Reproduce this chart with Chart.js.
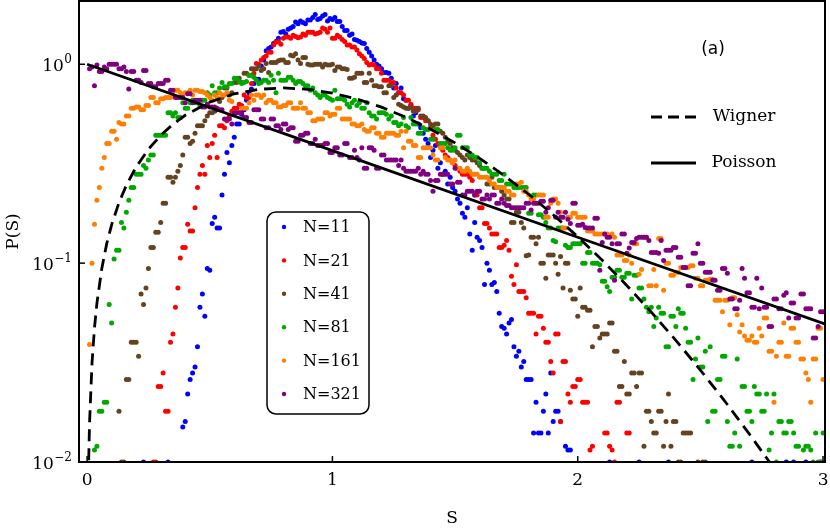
<!DOCTYPE html>
<html><head><meta charset="utf-8">
<script src="https://cdn.jsdelivr.net/npm/chart.js@4/dist/chart.umd.min.js"></script>
<style>html,body{margin:0;padding:0;background:#fff;}#wrap{width:830px;height:528px;}</style>
</head><body><div id="wrap"><canvas id="c" width="830" height="528"></canvas></div>
<script>
// Bin centres (S), odd hundredths
const S = [0.01,0.03,0.05,0.07,0.09,0.11,0.13,0.15,0.17,0.19,
0.21,0.23,0.25,0.27,0.29,0.31,0.33,0.35,0.37,0.39,
0.41,0.43,0.45,0.47,0.49,0.51,0.53,0.55,0.57,0.59,
0.61,0.63,0.65,0.67,0.69,0.71,0.73,0.75,0.77,0.79,
0.81,0.83,0.85,0.87,0.89,0.91,0.93,0.95,0.97,0.99,
1.01,1.03,1.05,1.07,1.09,1.11,1.13,1.15,1.17,1.19,
1.21,1.23,1.25,1.27,1.29,1.31,1.33,1.35,1.37,1.39,
1.41,1.43,1.45,1.47,1.49,1.51,1.53,1.55,1.57,1.59,
1.61,1.63,1.65,1.67,1.69,1.71,1.73,1.75,1.77,1.79,
1.81,1.83,1.85,1.87,1.89,1.91,1.93,1.95,1.97,1.99,
2.01,2.03,2.05,2.07,2.09,2.11,2.13,2.15,2.17,2.19,
2.21,2.23,2.25,2.27,2.29,2.31,2.33,2.35,2.37,2.39,
2.41,2.43,2.45,2.47,2.49,2.51,2.53,2.55,2.57,2.59,
2.61,2.63,2.65,2.67,2.69,2.71,2.73,2.75,2.77,2.79,
2.81,2.83,2.85,2.87,2.89,2.91,2.93,2.95,2.97,2.99];
// Bin centres (S), even hundredths
const S2 = [0.02,0.04,0.06,0.08,0.10,0.12,0.14,0.16,0.18,0.20,
0.22,0.24,0.26,0.28,0.30,0.32,0.34,0.36,0.38,0.40,
0.42,0.44,0.46,0.48,0.50,0.52,0.54,0.56,0.58,0.60,
0.62,0.64,0.66,0.68,0.70,0.72,0.74,0.76,0.78,0.80,
0.82,0.84,0.86,0.88,0.90,0.92,0.94,0.96,0.98,1.00,
1.02,1.04,1.06,1.08,1.10,1.12,1.14,1.16,1.18,1.20,
1.22,1.24,1.26,1.28,1.30,1.32,1.34,1.36,1.38,1.40,
1.42,1.44,1.46,1.48,1.50,1.52,1.54,1.56,1.58,1.60,
1.62,1.64,1.66,1.68,1.70,1.72,1.74,1.76,1.78,1.80,
1.82,1.84,1.86,1.88,1.90,1.92,1.94,1.96,1.98,2.00,
2.02,2.04,2.06,2.08,2.10,2.12,2.14,2.16,2.18,2.20,
2.22,2.24,2.26,2.28,2.30,2.32,2.34,2.36,2.38,2.40,
2.42,2.44,2.46,2.48,2.50,2.52,2.54,2.56,2.58,2.60,
2.62,2.64,2.66,2.68,2.70,2.72,2.74,2.76,2.78,2.80,
2.82,2.84,2.86,2.88,2.90,2.92,2.94,2.96,2.98,3.00];

const N11 = [null,null,null,null,null,null,null,null,null,null,
null,0.01,null,null,null,null,0.01,null,null,0.015,
0.022,0.028,0.038,0.07,0.094,0.158,0.15,0.22,0.36,0.39,
0.5,0.56,0.66,0.75,0.84,0.98,1.17,1.22,1.3,1.45,
1.42,1.52,1.63,1.65,1.6,1.67,1.78,1.7,1.78,1.7,
1.72,1.64,1.48,1.4,1.33,1.3,1.27,1.15,1.05,0.98,
0.91,0.9,0.76,0.72,0.67,0.6,0.55,0.5,0.45,0.4,
0.37,0.3,0.28,0.25,0.24,0.21,0.178,0.19,0.116,0.135,
0.12,0.1,0.078,0.072,0.048,0.044,0.052,0.034,0.03,0.026,
0.026,0.02,0.014,0.022,0.028,0.018,0.016,0.012,0.0115,null,
null,null,null,null,null,null,0.01,null,null,null,
null,null,0.01,null,null,null,null,null,0.01,null,
null,null,null,null,null,null,null,null,null,null,
null,null,null,null,null,0.01,null,null,null,null,
null,null,0.01,null,null,null,0.01,null,null,0.01];
const N11_E = [null,null,null,null,null,null,null,null,null,null,
null,null,null,null,null,null,null,null,null,0.016,
0.026,0.03,0.06,0.054,0.092,0.17,0.15,0.28,0.32,0.43,
0.5,0.59,0.72,0.8,0.84,1.05,1.2,1.27,1.35,1.46,
1.5,1.55,1.6,1.62,1.67,1.72,1.68,1.75,1.65,1.68,
1.64,1.55,1.48,1.42,1.32,1.28,1.2,1.1,1.0,0.95,
0.91,0.85,0.8,0.76,0.66,0.62,0.57,0.48,0.42,0.34,
0.39,0.32,0.29,0.27,0.23,0.2,0.17,0.14,0.16,0.13,
0.078,0.092,0.08,0.056,0.047,0.05,0.038,0.036,0.032,0.026,
0.014,0.014,0.018,0.014,0.016,0.018,null,0.0115,null,null,
null,null,null,null,null,null,null,null,null,null,
null,null,null,null,null,null,null,null,null,null,
null,null,null,null,null,null,null,null,null,null,
null,null,null,null,null,null,null,null,null,null,
null,null,null,0.01,null,null,null,null,null,null];

const N21 = [null,null,null,null,null,null,null,null,null,null,
null,null,null,0.01,0.024,0.028,0.018,0.044,0.075,0.12,
0.157,0.145,0.24,0.31,0.39,0.4,0.34,0.49,0.52,0.58,
0.6,0.62,0.68,0.8,1.01,1.05,1.1,1.15,1.29,1.26,
1.37,1.35,1.38,1.37,1.4,1.45,1.42,1.45,1.5,1.52,
1.35,1.37,1.3,1.25,1.22,1.13,1.07,0.99,0.99,0.95,
0.83,0.83,0.81,0.72,0.7,0.66,0.6,0.59,0.54,0.52,
0.44,0.4,0.37,0.34,0.32,0.3,0.28,0.28,0.26,0.22,
0.19,0.158,0.14,0.14,0.12,0.13,0.086,0.098,0.072,0.067,
0.056,0.044,0.054,0.04,0.032,0.044,0.016,0.032,0.02,0.024,
0.026,0.02,0.0115,null,null,0.014,0.012,0.01,0.02,null,
0.014,null,null,null,null,null,null,null,null,null,
null,null,null,null,null,null,null,null,null,null,
null,null,null,null,null,null,null,null,null,null,
null,null,null,null,null,null,null,null,null,null];
const N21_E = [null,null,null,null,null,null,null,null,null,null,
null,null,null,0.01,0.024,0.018,0.04,0.06,0.106,0.12,
0.145,0.19,0.28,0.28,0.34,0.44,0.49,0.48,0.55,0.6,
0.63,0.7,0.68,0.9,1.0,1.08,1.15,1.25,1.3,1.35,
1.37,1.4,1.36,1.42,1.45,1.45,1.43,1.52,1.45,1.35,
1.4,1.33,1.25,1.22,1.18,1.1,1.02,1.0,0.95,0.9,
0.83,0.8,0.76,0.72,0.66,0.63,0.6,0.54,0.52,0.48,
0.42,0.39,0.35,0.33,0.31,0.29,0.28,0.27,0.22,0.19,
0.158,0.15,0.14,0.12,0.123,0.116,0.078,0.072,0.072,0.056,
0.056,0.054,0.047,0.04,0.028,0.044,0.032,0.022,0.024,0.026,
0.02,0.02,0.012,null,null,0.014,0.0115,0.02,null,0.014,
null,null,null,null,null,null,null,null,null,null,
null,null,null,null,null,null,null,null,null,null,
null,null,null,null,null,null,null,null,null,null,
null,null,null,null,null,null,null,null,null,null];

const N41 = [null,null,null,null,null,null,0.018,0.01,0.026,0.04,
0.034,0.062,0.094,0.12,0.143,0.2,0.27,0.255,0.29,0.35,
0.43,0.41,0.49,0.49,0.55,0.57,0.6,0.68,0.76,0.72,
0.81,0.81,0.9,0.95,0.95,0.93,1.01,1.02,1.02,1.05,
1.02,1.11,1.13,1.01,1.08,0.99,1.0,1.0,1.0,0.99,
0.93,0.97,0.95,0.85,0.86,0.9,0.81,0.9,0.78,0.77,
0.72,0.78,0.68,0.63,0.61,0.6,0.58,0.6,0.55,0.52,
0.49,0.5,0.45,0.41,0.38,0.36,0.34,0.35,0.33,0.32,
0.3,0.25,0.27,0.24,0.23,0.21,0.16,0.18,0.16,0.109,
0.135,0.125,0.1,0.084,0.11,0.1,0.108,0.1,0.073,0.066,
0.075,0.06,0.058,0.048,0.042,0.044,0.05,0.036,0.024,0.032,
0.022,0.028,0.028,0.012,0.018,0.014,0.018,0.012,0.022,0.016,
0.01,0.014,0.014,null,0.01,0.01,null,null,null,null,
null,null,null,null,null,null,null,null,null,null,
null,null,null,null,null,null,null,null,null,null];
const N41_E = [null,null,null,null,null,null,0.01,0.026,0.04,0.04,
0.07,0.075,0.12,0.143,0.16,0.2,0.27,0.27,0.31,0.43,
0.4,0.45,0.49,0.52,0.57,0.58,0.65,0.76,0.7,0.81,
0.85,0.9,0.88,0.95,0.98,0.95,0.91,1.02,1.04,1.05,
1.02,1.1,1.05,1.08,1.0,0.99,1.0,0.97,0.99,1.0,
0.97,0.95,0.94,0.85,0.9,0.9,0.81,0.83,0.78,0.77,
0.72,0.78,0.7,0.62,0.6,0.61,0.58,0.55,0.54,0.5,
0.5,0.46,0.43,0.4,0.37,0.35,0.33,0.34,0.33,0.31,
0.3,0.25,0.24,0.24,0.22,0.21,0.16,0.18,0.15,0.11,
0.135,0.135,0.1,0.11,0.11,0.088,0.075,0.1,0.066,0.054,
0.06,0.058,0.038,0.048,0.044,0.044,0.05,0.036,0.024,0.022,
0.028,0.024,0.028,0.018,0.016,0.014,0.018,0.016,0.012,0.016,
0.01,0.014,0.014,null,null,0.01,null,null,null,null,
null,null,null,null,null,null,null,null,null,null,
null,null,null,null,null,null,null,null,null,null];

const N81 = [null,0.0115,0.018,0.02,0.062,0.105,0.116,0.15,0.207,0.24,
0.28,0.31,0.33,0.35,0.44,0.44,0.57,0.55,0.54,0.64,
0.6,0.66,0.64,0.66,0.72,0.78,0.72,0.81,0.77,0.8,
0.85,0.8,0.82,0.88,0.83,0.81,0.83,0.88,0.72,0.83,
0.83,0.86,0.8,0.82,0.78,0.74,0.72,0.68,0.7,0.67,
0.74,0.67,0.66,0.61,0.66,0.64,0.6,0.57,0.55,0.57,
0.57,0.53,0.51,0.49,0.54,0.48,0.5,0.45,0.48,0.47,
0.42,0.47,0.4,0.38,0.37,0.44,0.38,0.38,0.35,0.34,
0.3,0.3,0.28,0.28,0.26,0.25,0.25,0.24,0.24,0.24,
0.178,0.22,0.175,0.16,0.15,0.128,0.15,0.123,0.12,0.125,
0.125,0.1,0.113,0.1,0.098,0.081,0.072,0.085,0.092,0.085,
0.089,0.087,0.075,0.066,0.057,0.048,0.06,0.056,0.038,0.054,
0.059,0.056,0.04,0.026,0.042,0.03,0.016,0.018,0.026,0.034,
0.016,0.012,0.033,0.024,0.018,0.016,0.022,0.018,0.022,0.014,
0.01,0.016,0.014,0.016,0.012,null,0.012,0.0115,0.014,0.01];
const N81_E = [null,0.012,0.018,0.02,0.05,0.116,0.16,0.18,0.24,0.28,
0.28,0.3,0.35,0.44,0.44,0.44,0.57,0.57,0.54,0.6,
0.64,0.64,0.62,0.66,0.7,0.72,0.76,0.77,0.8,0.85,
0.82,0.81,0.88,0.86,0.8,0.83,0.81,0.83,0.9,0.83,
0.86,0.83,0.82,0.8,0.78,0.76,0.7,0.7,0.68,0.66,
0.67,0.67,0.63,0.64,0.62,0.6,0.64,0.55,0.53,0.57,
0.56,0.55,0.51,0.5,0.49,0.54,0.5,0.45,0.47,0.42,
0.47,0.4,0.4,0.37,0.38,0.44,0.38,0.35,0.34,0.32,
0.3,0.29,0.28,0.26,0.28,0.25,0.24,0.24,0.24,0.178,
0.22,0.175,0.17,0.15,0.13,0.15,0.15,0.12,0.125,0.125,
0.1,0.113,0.1,0.1,0.081,0.076,0.085,0.092,0.085,0.089,
0.066,0.087,0.075,0.06,0.06,0.053,0.056,0.038,0.054,0.048,
0.056,0.047,0.04,0.033,0.03,0.036,0.038,0.018,0.026,0.034,
0.012,0.014,0.012,0.024,0.018,0.024,0.022,0.018,0.0115,0.022,
0.016,0.014,0.016,0.014,0.012,0.0115,0.012,0.01,0.01,0.014];

const N161 = [0.039,0.157,0.24,0.34,0.4,0.46,0.51,0.5,0.55,0.6,
0.61,0.59,0.62,0.68,0.64,0.67,0.68,0.7,0.74,0.7,
0.72,0.7,0.74,0.73,0.7,0.66,0.68,0.7,0.72,0.65,
0.57,0.6,0.6,0.7,0.7,0.68,0.64,0.66,0.64,0.61,
0.62,0.64,0.6,0.64,0.6,0.57,0.52,0.53,0.57,0.55,
0.56,0.6,0.53,0.53,0.5,0.49,0.47,0.46,0.48,0.45,
0.43,0.45,0.45,0.44,0.38,0.41,0.39,0.34,0.38,0.38,
0.35,0.33,0.38,0.33,0.32,0.3,0.29,0.3,0.28,0.28,
0.27,0.27,0.25,0.24,0.24,0.23,0.22,0.25,0.255,0.23,
0.21,0.2,0.22,0.17,0.2,0.21,0.18,0.15,0.17,0.178,
0.17,0.17,0.145,0.14,0.14,0.14,0.138,0.135,0.11,0.103,
0.11,0.125,0.088,0.135,0.077,0.093,0.133,0.073,0.1,0.087,
0.09,0.095,0.095,0.097,0.084,0.077,0.082,0.083,0.065,0.057,
0.065,0.067,0.055,0.049,0.041,0.043,0.04,0.043,0.053,0.036,
0.034,0.04,0.034,0.047,0.04,0.033,0.028,0.02,0.033,0.047];
const N161_E = [0.1,0.207,0.3,0.4,0.46,0.42,0.5,0.55,0.6,0.61,
0.59,0.62,0.68,0.64,0.67,0.68,0.68,0.74,0.72,0.72,
0.74,0.74,0.73,0.72,0.68,0.7,0.72,0.7,0.66,0.57,
0.57,0.6,0.64,0.66,0.7,0.7,0.66,0.64,0.61,0.62,
0.64,0.6,0.6,0.6,0.57,0.52,0.53,0.53,0.57,0.56,
0.6,0.53,0.53,0.5,0.49,0.5,0.46,0.48,0.45,0.43,
0.45,0.45,0.44,0.46,0.46,0.41,0.39,0.34,0.38,0.38,
0.33,0.38,0.34,0.33,0.33,0.3,0.29,0.29,0.28,0.27,
0.27,0.26,0.25,0.24,0.24,0.23,0.22,0.25,0.23,0.22,
0.21,0.22,0.22,0.17,0.21,0.2,0.15,0.17,0.178,0.17,
0.17,0.145,0.145,0.14,0.14,0.14,0.14,0.11,0.11,0.103,
0.1,0.125,0.093,0.135,0.077,0.077,0.133,0.1,0.087,0.09,
0.095,0.095,0.097,0.084,0.077,0.082,0.083,0.065,0.065,0.065,
0.049,0.067,0.045,0.043,0.041,0.04,0.047,0.053,0.036,0.02,
0.04,0.05,0.034,0.047,0.04,0.033,0.026,0.033,0.047,0.026];

const N321 = [0.95,0.78,0.92,0.97,1.0,1.0,0.95,0.97,0.75,0.92,
0.83,0.93,0.8,0.77,0.8,0.8,0.83,0.74,0.68,0.68,
0.71,0.64,0.66,0.61,0.63,0.61,0.59,0.59,0.53,0.5,
0.57,0.57,0.54,0.51,0.59,0.53,0.48,0.53,0.49,0.47,
0.5,0.48,0.41,0.44,0.45,0.4,0.42,0.39,0.4,0.36,
0.38,0.35,0.4,0.34,0.37,0.33,0.3,0.38,0.37,0.3,
0.35,0.33,0.33,0.31,0.3,0.29,0.29,0.3,0.29,0.28,
0.23,0.26,0.28,0.28,0.25,0.255,0.22,0.23,0.23,0.23,
0.21,0.22,0.22,0.2,0.21,0.195,0.19,0.19,0.19,0.2,
0.185,0.2,0.205,0.18,0.207,0.17,0.17,0.18,0.158,0.2,
0.155,0.151,0.15,0.168,0.092,0.14,0.135,0.082,0.125,0.14,
0.119,0.127,0.135,0.135,0.13,0.113,0.112,0.103,0.116,0.12,
0.107,0.095,0.077,0.112,0.125,0.1,0.09,0.082,0.073,0.094,
0.089,0.066,0.059,0.094,0.071,0.06,0.084,0.075,0.06,0.048,
0.066,0.059,0.071,0.063,0.053,0.07,0.059,0.059,0.042,0.057];
const N321_E = [0.97,0.99,0.92,0.95,1.0,1.0,0.95,0.92,0.92,0.83,
0.81,0.93,0.8,0.77,0.8,0.83,0.74,0.68,0.68,0.64,
0.71,0.66,0.66,0.61,0.61,0.61,0.59,0.53,0.53,0.57,
0.57,0.54,0.51,0.59,0.59,0.53,0.48,0.53,0.49,0.5,
0.47,0.48,0.41,0.44,0.45,0.4,0.39,0.39,0.4,0.36,
0.38,0.35,0.4,0.34,0.34,0.38,0.3,0.38,0.3,0.35,
0.33,0.33,0.33,0.33,0.29,0.29,0.29,0.28,0.28,0.26,
0.26,0.28,0.28,0.25,0.3,0.255,0.22,0.23,0.22,0.23,
0.21,0.21,0.22,0.2,0.2,0.195,0.19,0.19,0.19,0.2,
0.2,0.2,0.205,0.19,0.207,0.18,0.17,0.166,0.2,0.155,
0.157,0.15,0.15,0.168,0.127,0.135,0.125,0.125,0.14,0.112,
0.127,0.133,0.135,0.135,0.113,0.113,0.13,0.116,0.116,0.12,
0.107,0.095,0.077,0.112,0.1,0.09,0.09,0.082,0.073,0.094,
0.066,0.059,0.065,0.084,0.071,0.06,0.059,0.06,0.048,0.066,
0.059,0.069,0.053,0.063,0.053,0.07,0.059,0.042,0.048,0.057];

// Reference curves
const WIGNER_S = [0.0065,0.01,0.02,0.03,0.04,0.06,0.08,0.1,0.13,0.16,0.2,0.25,0.3,0.35,0.4,0.5,0.6,0.7,0.8,0.9,1.0,1.1,1.2,1.3,1.4,1.5,1.6,1.7,1.8,1.9,2.0,2.1,2.2,2.3,2.4,2.5,2.6,2.7,2.8];
const WIGNER_P = [0.0102,0.0157,0.0314,0.0471,0.0628,0.0941,0.1253,0.1559,0.2015,0.2463,0.3044,0.3739,0.4391,0.4994,0.5541,0.6454,0.7104,0.7484,0.7601,0.7483,0.7161,0.668,0.6083,0.5415,0.4717,0.4025,0.3365,0.2759,0.222,0.1752,0.1358,0.1033,0.0772,0.0567,0.0409,0.029,0.0202,0.0138,0.0093];
const POISSON_S = [0, 1, 2, 3.01];
const POISSON_P = [1, 0.368, 0.135, 0.0493];

const SERIES_LABELS = ['N=11','N=21','N=41','N=81','N=161','N=321'];
const SERIES_ODD = [N11, N21, N41, N81, N161, N321];
const SERIES_EVEN = [N11_E, N21_E, N41_E, N81_E, N161_E, N321_E];
const COLORS = ['#0000ff','#ff0000','#654321','#00a800','#ff8000','#800080'];
const X_TICKS = [0, 1, 2, 3];
const X_TICK_LABELS = ['0','1','2','3'];
const Y_TICKS = [0.01, 0.1, 1];
const Y_TICK_EXPONENTS = ['\u22122','\u22121','0'];

const SERIF = "'DejaVu Serif', serif";

const pts = (xs, ys) => xs.map((x, i) => ({x: x, y: ys[i]})).filter(p => p.y !== null);

const datasets = [];
datasets.push({label:'Poisson', data: pts(POISSON_S, POISSON_P), showLine:true, borderColor:'#000', borderWidth:2.8, pointRadius:0, order:0});
datasets.push({label:'Wigner', data: pts(WIGNER_S, WIGNER_P), showLine:true, borderColor:'#000', borderWidth:2.8, borderDash:[12,7], pointRadius:0, order:0});
SERIES_ODD.forEach((vals, k) => {
  const data = pts(S, vals).concat(pts(S2, SERIES_EVEN[k])).sort((p, q) => p.x - q.x);
  datasets.push({label: SERIES_LABELS[k], data: data, showLine:false,
    pointRadius:2.5, pointBorderWidth:0, pointBackgroundColor: COLORS[k], borderColor: COLORS[k],
    backgroundColor: COLORS[k], order: 6 - k + 1, clip:{left:5, top:5, right:5, bottom:0}});
});

const deco = {
  id: 'deco',
  afterDraw(chart) {
    const ctx = chart.ctx, a = chart.chartArea;
    const xs = chart.scales.x, ys = chart.scales.y;
    ctx.save();
    // frame
    ctx.strokeStyle = '#000'; ctx.lineWidth = 2; ctx.setLineDash([]);
    ctx.strokeRect(a.left, a.top, a.right - a.left, a.bottom - a.top);
    // inward ticks
    ctx.lineWidth = 1.5;
    X_TICKS.forEach(v => { const px = xs.getPixelForValue(v); ctx.beginPath(); ctx.moveTo(px, a.bottom); ctx.lineTo(px, a.bottom - 6); ctx.stroke(); });
    Y_TICKS.forEach(v => { const py = ys.getPixelForValue(v); ctx.beginPath(); ctx.moveTo(a.left, py); ctx.lineTo(a.left + 6, py); ctx.stroke(); });
    // tick labels
    ctx.fillStyle = '#000';
    ctx.textBaseline = 'alphabetic';
    ctx.font = "17px " + SERIF; ctx.textAlign = 'center';
    X_TICKS.forEach((v, i) => { ctx.fillText(X_TICK_LABELS[i], xs.getPixelForValue(v), a.bottom + 23); });
    Y_TICKS.forEach((v, i) => {
      const py = ys.getPixelForValue(v);
      const rx = a.left - 7;
      ctx.font = "12px " + SERIF; ctx.textAlign = 'right';
      const ew = ctx.measureText(Y_TICK_EXPONENTS[i]).width;
      ctx.fillText(Y_TICK_EXPONENTS[i], rx, py - 1);
      ctx.font = "17px " + SERIF;
      ctx.fillText('10', rx - ew - 0.5, py + 7);
    });
    // axis titles
    ctx.font = "17px " + SERIF; ctx.textAlign = 'center';
    ctx.fillText('S', (a.left + a.right) / 2, 523);
    ctx.save();
    ctx.translate(14, (a.top + a.bottom) / 2);
    ctx.rotate(-Math.PI / 2);
    ctx.textBaseline = 'middle';
    ctx.fillText('P(S)', 0, 0);
    ctx.restore();
    // boxed legend
    ctx.beginPath();
    ctx.roundRect(267, 212, 102, 202, 9);
    ctx.fillStyle = '#fff'; ctx.fill();
    ctx.lineWidth = 1.5; ctx.strokeStyle = '#000'; ctx.stroke();
    ctx.font = "16px " + SERIF; ctx.textBaseline = 'middle'; ctx.textAlign = 'left';
    SERIES_LABELS.forEach((lab, i) => {
      const y = 227 + 33.4 * i;
      ctx.fillStyle = COLORS[i];
      ctx.beginPath(); ctx.arc(284, y, 2.2, 0, Math.PI * 2); ctx.fill();
      ctx.fillStyle = '#000';
      ctx.fillText(lab, 303, y + 1);
    });
    // line legend
    ctx.lineWidth = 2.8;
    ctx.setLineDash([11, 6]);
    ctx.beginPath(); ctx.moveTo(651, 117); ctx.lineTo(696, 117); ctx.stroke();
    ctx.setLineDash([]);
    ctx.beginPath(); ctx.moveTo(651, 163); ctx.lineTo(696, 163); ctx.stroke();
    ctx.font = "17px " + SERIF; ctx.textAlign = 'center'; ctx.fillStyle = '#000';
    ctx.fillText('Wigner', 744, 117);
    ctx.fillText('Poisson', 744, 163);
    ctx.font = "17px 'DejaVu Sans', sans-serif";
    ctx.fillText('(a)', 713, 50);
    ctx.restore();
  }
};

new Chart(document.getElementById('c'), {
  type: 'scatter',
  data: { datasets: datasets },
  options: {
    responsive: false, animation: false, devicePixelRatio: 1,
    layout: { autoPadding: false, padding: { top: 1, right: 5, left: 0, bottom: 0 } },
    plugins: { legend: { display: false }, tooltip: { enabled: false } },
    scales: {
      x: {
        type: 'linear', min: -0.033, max: 3.008,
        afterBuildTicks(s) { s.ticks = X_TICKS.map(v => ({ value: v })); },
        afterFit(s) { s.height = 66; s.paddingLeft = 0; s.paddingRight = 0; s.paddingTop = 0; s.paddingBottom = 0; },
        grid: { display: false, drawTicks: false }, border: { display: false },
        ticks: { display: false },
        title: { display: false }
      },
      y: {
        type: 'logarithmic', min: 0.01, max: 2.08,
        afterBuildTicks(s) { s.ticks = Y_TICKS.map(v => ({ value: v })); },
        afterFit(s) { s.width = 79; s.paddingLeft = 0; s.paddingRight = 0; s.paddingTop = 0; s.paddingBottom = 0; },
        grid: { display: false, drawTicks: false }, border: { display: false },
        ticks: { display: false },
        title: { display: false }
      }
    }
  },
  plugins: [deco]
});
</script></body></html>
